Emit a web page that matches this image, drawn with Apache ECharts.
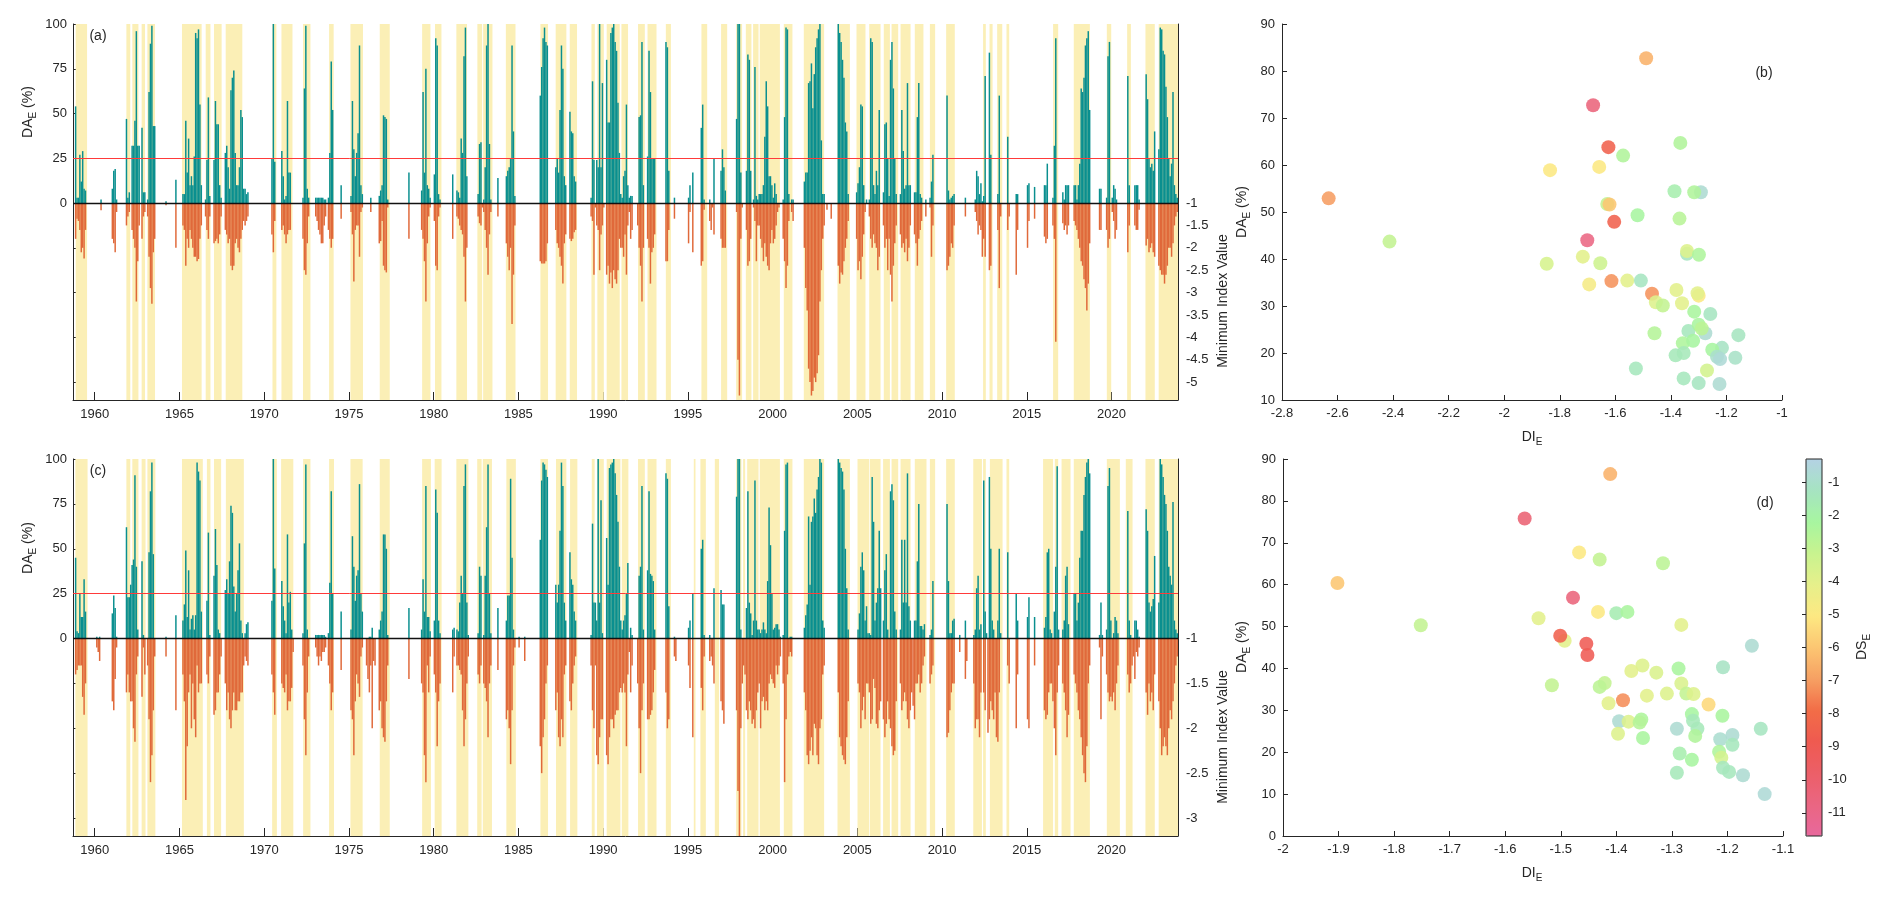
<!DOCTYPE html>
<html>
<head>
<meta charset="utf-8">
<title>DA_E time series and DI_E scatter</title>
<script src="https://cdn.jsdelivr.net/npm/echarts@6/dist/echarts.min.js"></script>
<style>
  html, body { margin: 0; padding: 0; background: #fff; }
  #chart { width: 1892px; height: 902px; }
</style>
</head>
<body>
<div id="chart"></div>
<script>
// ---- data ----
const yearTicks = [1960, 1965, 1970, 1975, 1980, 1985, 1990, 1995, 2000, 2005, 2010, 2015, 2020];

// drought episodes: [first month, DA_E (%) per month, minimum index value per month]
const episodesA = [
  ['1958-11', [54,3,3,27,12,29,8,7], [-1.8,-1.35,-1.4,-1.6,-2.1,-2.0,-2.24,-1.6]],
  ['1960-05', [2], [-1.16]],
  ['1961-01', [8,18,19,2], [-1.8,-1.9,-2.1,-1.2]],
  ['1961-11', [47,3,6], [-1.5,-1.3,-1.2]],
  ['1962-03', [32,32,46,96,32,32], [-1.6,-1.8,-2.0,-3.2,-2.3,-1.5]],
  ['1962-10', [42,6,6], [-1.8,-1.3,-1.2]],
  ['1963-02', [2,62,89,99,43,43], [-1.3,-2.2,-2.9,-3.25,-2.1,-1.8]],
  ['1964-03', [1], [-1.05]],
  ['1964-10', [13], [-2.0]],
  ['1965-03', [5,5,46,17,36,10,15,10,26,95,92,97,55,10], [-1.5,-1.6,-2.4,-1.8,-2.0,-1.6,-1.8,-2.0,-2.2,-2.2,-2.3,-2.25,-1.8,-1.5]],
  ['1966-07', [2,24,59,4], [-1.3,-1.6,-1.8,-1.3]],
  ['1967-01', [24,57,44,44,10,3], [-1.9,-1.85,-1.8,-1.9,-1.7,-1.3]],
  ['1967-09', [28,32,20,8,63,70,74,28,10,10,20,52,48,8], [-1.6,-1.7,-1.9,-1.8,-2.4,-2.5,-2.4,-1.9,-1.8,-2.0,-2.1,-1.8,-1.6,-1.4]],
  ['1968-11', [8,5,6], [-1.5,-1.4,-1.3]],
  ['1970-06', [25,100,23], [-1.7,-2.1,-1.4]],
  ['1971-01', [29,15,2,4,57,17,17], [-1.6,-1.5,-1.7,-1.9,-1.7,-1.6,-1.6]],
  ['1972-04', [3,64,99,8,3], [-1.8,-2.5,-2.6,-1.9,-1.3]],
  ['1973-01', [3,3,3,3,3,3,2,2], [-1.3,-1.4,-1.6,-1.7,-1.9,-1.9,-1.5,-1.3]],
  ['1973-10', [3,28,79,52], [-1.6,-1.8,-2.0,-1.8]],
  ['1974-07', [10], [-1.35]],
  ['1975-02', [4,57,30,15,28,39,88,10,5], [-1.2,-1.7,-2.75,-1.6,-1.5,-1.5,-2.2,-1.2,-1.1]],
  ['1976-04', [3], [-1.2]],
  ['1976-10', [4,7,10,49,48,47,2], [-1.9,-1.85,-1.4,-2.4,-2.5,-2.55,-1.1]],
  ['1978-07', [17], [-1.8]],
  ['1979-04', [7,62,17,75,10,8,3], [-1.6,-1.8,-2.3,-3.2,-1.9,-1.3,-1.1]],
  ['1980-01', [16,92,88,5,2], [-1.4,-2.4,-2.5,-1.3,-1.1]],
  ['1981-02', [16], [-1.8]],
  ['1981-05', [7,6,3,36,28,82,98,15], [-1.3,-1.35,-1.5,-1.6,-1.7,-2.2,-3.2,-2.0]],
  ['1982-08', [5,33,34,0,2,20,88,100,33,2], [-1.3,-1.45,-1.5,-1.1,-1.2,-1.6,-2.0,-2.6,-1.7,-1.2]],
  ['1983-10', [14], [-1.3]],
  ['1984-04', [15,18,20,25,88,40,4], [-1.9,-2.2,-2.5,-2.0,-3.7,-2.6,-1.5]],
  ['1986-04', [60,76,92,98,90,88], [-2.3,-2.35,-2.35,-2.35,-2.3,-1.9]],
  ['1987-03', [20,25,17,52,88,75,15,10], [-1.6,-1.9,-2.0,-2.2,-2.4,-2.8,-1.9,-1.7]],
  ['1988-01', [51,40,39,15,12], [-1.8,-1.85,-1.8,-1.65,-1.6]],
  ['1989-04', [3,68,24,0,24,20,100,20,67,0], [-1.3,-1.4,-2.6,-1.1,-1.5,-1.6,-2.5,-1.7,-1.5,-1.1]],
  ['1990-03', [80,45,45,95,98,100,90,85,56,28,5,3,15,18,55,10], [-2.6,-2.4,-2.8,-2.55,-2.9,-2.5,-2.7,-2.8,-2.5,-1.8,-2.0,-2.0,-2.2,-1.7,-2.6,-1.5]],
  ['1991-07', [3,4,4], [-1.2,-1.8,-1.6]],
  ['1992-01', [0,48,49,90,10], [-1.5,-2.0,-2.4,-3.2,-2.0]],
  ['1992-08', [26,85,62,25,25,25], [-1.8,-2.0,-2.8,-2.1,-2.0,-1.7]],
  ['1993-09', [90,87,18], [-2.3,-2.3,-1.6]],
  ['1994-03', [3], [-1.35]],
  ['1995-01', [3,10,0,17], [-1.9,-1.2,null,-2.1]],
  ['1995-10', [42,55,2], [-2.4,-2.3,-1.15]],
  ['1996-04', [2,0,0,25], [-1.4,-1.6,-1.1,-1.7]],
  ['1996-12', [18,30,20,7], [-1.8,-2.0,-2.0,-2.0]],
  ['1997-11', [47,100,100,17,0], [-1.2,-4.5,-5.3,-1.8,-1.1]],
  ['1998-06', [18,83,80,18,0,2,76,4,2], [-1.6,-2.4,-2.3,-1.8,null,-1.1,-1.4,-2.3,-1.5]],
  ['1999-03', [5,5,5,10,37,68,54,15,15,10,3,11,5,0,0], [-1.5,-1.8,-2.0,-2.3,-1.9,-2.2,-2.4,-2.5,-1.9,-1.6,-1.9,-1.8,-1.5,-1.2,-1.1]],
  ['2000-08', [2,48,98,97,5,0,2,2], [-1.8,-2.3,-2.9,-2.4,-1.4,null,-1.2,-1.4]],
  ['2001-11', [12,17,17,67,68,78,53,72,87,92,97,100,35,5,5], [-2.0,-2.9,-3.4,-4.7,-5.0,-5.3,-5.2,-4.9,-5.0,-4.8,-4.4,-3.2,-2.5,-1.8,-1.5]],
  ['2003-03', [0], [-1.15]],
  ['2003-06', [0], [-1.35]],
  ['2003-11', [100,95,90,80,70,45,40,5], [-2.4,-2.8,-2.55,-2.6,-2.3,-2.0,-1.8,-1.4]],
  ['2004-12', [6,11,20,55,54,10,0,2], [-1.8,-2.5,-2.3,-2.7,-2.2,-1.7,-1.2,null]],
  ['2005-09', [2,92,90,10,5,18,10,52], [-1.3,-1.8,-2.0,-1.7,-1.9,-2.0,-2.5,-2.2]],
  ['2006-07', [6,44,45,25,4,80,90,64,25,5], [-1.5,-2.0,-1.8,-2.5,-1.8,-2.6,-3.2,-2.4,-1.9,-1.5]],
  ['2007-07', [5,52,29,8,10,67,10,10], [-1.7,-2.0,-1.9,-2.1,-1.8,-2.3,-2.0,-1.5]],
  ['2008-05', [6,6,48,67,5,3,0,0,2], [-1.7,-1.9,-2.4,-1.8,-1.6,-1.4,null,null,-1.3]],
  ['2009-04', [3,12,27], [-1.1,-2.2,-1.5]],
  ['2010-04', [60,7,2,3,4,5], [-2.5,-2.4,-2.2,-1.9,-2.0,-1.5]],
  ['2011-05', [3], [-1.3]],
  ['2011-12', [2,18,15,5,11,1,4,71], [-1.2,-1.4,-1.7,-1.5,-1.6,-2.2,-1.8,-2.2]],
  ['2012-10', [84,27], [-2.5,-2.4]],
  ['2013-04', [5,60,0], [-1.6,-2.9,-1.3]],
  ['2013-11', [37,0], [-1.6,-1.3]],
  ['2014-05', [5,5], [-2.6,-1.6]],
  ['2015-01', [10,11], [-2.0,-1.4]],
  ['2015-06', [9], [-1.35]],
  ['2016-01', [10,10,22], [-1.75,-1.9,-1.8]],
  ['2016-07', [3,32,92], [-1.5,-1.8,-4.1]],
  ['2017-02', [6,2,10,10,10], [-1.45,-1.6,-1.5,-1.7,-1.5]],
  ['2017-10', [10,10,2,10,22,64,62,70,88,92,96,52], [-1.4,-1.5,-1.6,-1.8,-2.0,-2.3,-2.4,-2.7,-2.9,-3.4,-2.8,-1.9]],
  ['2019-04', [8,8], [-1.6,-1.6]],
  ['2019-09', [3,82,90,0,3,10,8,2], [-1.6,-2.0,-1.8,null,-1.2,-1.4,-1.8,-1.6]],
  ['2020-12', [71,10], [-2.1,-1.5]],
  ['2021-05', [10,10,10,2], [-1.5,-1.6,-1.6,-1.15]],
  ['2022-01', [72,58,25,20,22,18,40], [-1.95,-1.8,-2.1,-2.0,-1.9,-2.1,-2.2]],
  ['2022-10', [30,98,97,85,83,65,48,25,15,22,62,10,5,3], [-2.4,-2.5,-2.6,-2.6,-2.8,-2.6,-2.4,-2.0,-2.0,-2.2,-1.9,-1.5,-1.3,-1.2]]
];

const droughtSpansA = [
  [1958.88,1959.55],[1961.87,1962.10],[1962.22,1962.58],[1962.77,1962.97],[1963.11,1963.56],
  [1965.15,1966.31],[1966.55,1966.83],[1967.04,1967.49],[1967.73,1968.71],[1970.49,1970.72],
  [1971.02,1971.67],[1972.29,1972.73],[1973.83,1974.10],[1975.09,1975.83],[1976.82,1977.41],
  [1979.32,1979.81],[1980.08,1980.46],[1981.34,1981.97],[1982.58,1982.86],[1982.92,1983.47],
  [1984.26,1984.83],[1986.30,1986.75],[1987.20,1987.83],[1988.03,1988.46],[1989.31,1989.51],
  [1989.66,1990.04],[1990.21,1990.98],[1991.08,1991.47],[1992.06,1992.46],[1992.62,1993.15],
  [1993.70,1994.0],[1995.80,1996.14],[1996.96,1997.32],[1997.85,1998.20],[1998.42,1998.75],
  [1998.85,1999.17],[1999.24,2000.43],[2000.66,2001.17],[2001.84,2003.04],[2003.83,2004.56],
  [2004.95,2005.48],[2005.70,2006.37],[2006.56,2006.92],[2007.02,2007.41],[2007.55,2008.14],
  [2008.39,2008.90],[2009.28,2009.59],[2010.24,2010.75],[2012.42,2012.58],[2012.80,2012.98],
  [2013.25,2013.55],[2013.80,2013.96],[2016.55,2016.85],[2017.77,2018.72],[2019.72,2019.98],
  [2020.92,2021.14],[2022.0,2022.55],[2022.78,2023.92]
];

const episodesC = [
  ['1958-11', [45,4,3,25,12,12,33,15], [-1.4,-1.35,-1.3,-1.3,-1.3,-1.65,-1.85,-1.5]],
  ['1960-02', [1,0,1], [-1.1,-1.15,-1.25]],
  ['1961-01', [14,24,17,1], [-1.7,-1.8,-1.45,-1.1]],
  ['1961-11', [62,23,23,30,41,44,91,40,5], [-1.6,-1.4,-1.6,-1.7,-1.7,-2.0,-2.15,-1.4,-1.2]],
  ['1962-10', [43,2,0], [-1.65,-1.1,-1.4]],
  ['1963-02', [0,48,82,98,47,0], [-1.3,-1.9,-2.6,-2.3,-1.8,-1.2]],
  ['1964-03', [1], [-1.2]],
  ['1964-10', [13], [-1.8]],
  ['1965-03', [10,19,49,12,38,5,11,13,5,13,98,93,88,15], [-1.4,-1.7,-2.8,-2.2,-1.6,-1.4,-2.0,-1.5,-1.9,-2.1,-1.3,-1.6,-1.5,-1.5]],
  ['1966-08', [21,59,2], [-1.4,-1.5,-1.2]],
  ['1967-01', [35,61,41,5,3,0], [-1.85,-1.8,-1.6,-1.6,-1.4,-1.2]],
  ['1967-09', [27,33,25,43,74,70,29,15,25,38,53,10,3,0], [-1.5,-1.8,-1.6,-1.9,-2.0,-1.8,-1.6,-1.8,-1.8,-1.7,-1.7,-1.6,-1.6,-1.3]],
  ['1968-11', [3,8,9], [-1.2,-1.25,-1.3]],
  ['1970-06', [21,100,39], [-1.4,-1.6,-1.85]],
  ['1971-01', [32,18,10,3,58,20,26,5,0], [-1.5,-1.55,-1.6,-1.4,-1.8,-1.7,-1.7,-1.55,-1.15]],
  ['1972-04', [3,53,97,5,0], [-1.3,-1.9,-2.3,-1.6,-1.2]],
  ['1973-01', [2,2,2,2,2,2,2,1], [-1.1,-1.2,-1.3,-1.2,-1.25,-1.15,-1.15,-1.1]],
  ['1973-10', [3,31,82,25], [-1.3,-1.5,-1.8,-1.6]],
  ['1974-07', [15], [-1.35]],
  ['1975-02', [5,57,40,21,35,38,86,25,15], [-1.8,-1.9,-2.3,-1.7,-1.4,-1.5,-1.65,-1.2,-1.1]],
  ['1976-01', [0,0,1,1,6,0,0], [-1.3,-1.45,-1.6,-1.3,-2.0,-1.25,-1.3]],
  ['1976-10', [5,10,15,58,58,50,2], [-1.8,-1.7,-2.0,-2.1,-2.15,-1.7,-1.3]],
  ['1978-07', [17], [-1.45]],
  ['1979-04', [5,33,15,85,12,12,4], [-1.5,-1.6,-2.3,-2.6,-1.3,-1.6,-1.2]],
  ['1980-01', [10,83,70,10,3], [-1.4,-1.6,-2.2,-1.7,-1.5]],
  ['1981-02', [5,6], [-1.6,-1.2]],
  ['1981-05', [5,4,20,35,25,85,97,20,2], [-1.3,-1.3,-1.35,-1.4,-1.8,-2.2,-1.9,-1.5,-1.2]],
  ['1982-08', [3,40,35,0,2,35,62,97,25,3], [-1.4,-1.5,-1.3,null,-1.5,-1.55,-1.7,-2.1,-1.5,-1.3]],
  ['1983-10', [17], [-1.35]],
  ['1984-04', [10,24,24,89,45,5,0], [-1.9,-1.8,-2.0,-2.4,-1.8,-1.3,-1.1]],
  ['1985-01', [1,0,0,0,1], [-1.1,null,null,null,-1.25]],
  ['1986-04', [55,88,98,97,94,90], [-2.2,-2.5,-2.1,-1.9,-1.5,-1.3]],
  ['1987-03', [30,20,30,60,98,85,20,10], [-1.8,-1.6,-2.1,-2.2,-1.9,-2.1,-1.4,-1.3]],
  ['1988-01', [48,33,30,15,10], [-1.7,-1.8,-1.5,-1.3,-1.2]],
  ['1989-04', [2,64,20,20,10,100,20,77,3], [-1.3,-1.8,-2.0,-1.3,-2.3,-2.4,-2.1,-1.9,-1.9]],
  ['1990-03', [56,30,95,97,98,100,92,80,65,40,10,5,10,13,25,42], [-2.3,-2.4,-2.1,-1.9,-1.9,-2.0,-1.85,-1.8,-1.8,-1.6,-1.55,-1.6,-1.5,-1.6,-2.2,-1.4]],
  ['1991-07', [0,6,2], [-1.15,-1.6,-1.3]],
  ['1992-01', [0,35,40,85,5], [-1.5,-2.0,-2.5,-1.8,-1.5]],
  ['1992-08', [38,82,36,35,32,5], [-1.9,-1.9,-1.85,-1.8,-1.6,-1.35]],
  ['1993-09', [92,89,18], [-1.6,-2.0,-1.9]],
  ['1994-03', [1,0], [-1.2,-1.25]],
  ['1995-01', [6,10,0,25], [-1.3,-1.55,null,-2.1]],
  ['1995-10', [50,55,2], [-1.55,-1.8,-1.2]],
  ['1996-04', [2,0,0,28], [-1.25,-1.2,-1.3,-1.5]],
  ['1996-12', [27,19,19], [-1.7,-1.8,-1.95]],
  ['1997-11', [79,100,100,5,0,0,0,17,82,20,14,2,10,88,10,5,5,3,5,9,5,3,32,73,52,25,5,6,8,8,5,1],
              [-1.8,-2.7,-3.2,-2.0,-1.5,-1.3,-1.4,-1.8,-1.9,-1.7,-1.8,-1.95,-1.9,-2.0,-1.8,-1.6,-1.5,-2.0,-1.7,-1.65,-1.8,-1.7,-1.8,-1.5,-1.4,-1.45,-1.5,-1.55,-1.3,-1.4,-1.3,-1.2]],
  ['2000-08', [2,60,97,98,0,1,1], [-1.5,-2.6,-1.9,-1.4,-1.2,-1.15,-1.2]],
  ['2001-11', [6,13,19,68,30,65,68,78,70,83,90,100,98,10,6], [-1.6,-1.8,-2.3,-2.4,-2.25,-2.1,-2.3,-1.95,-2.0,-2.3,-2.4,-2.0,-1.9,-1.4,-1.3]],
  ['2003-11', [100,98,95,93,83,50,28,5], [-1.6,-2.1,-2.2,-2.3,-2.35,-2.4,-2.1,-1.7]],
  ['2005-01', [5,14,40,48,38,10,18,3,3,2,90,65,10,20,28,60,28], [-1.5,-1.6,-2.0,-1.8,-1.65,-1.9,-1.5,-1.5,-1.6,-1.95,-1.9,-1.45,-1.55,-1.95,-2.0,-1.8,-1.7]],
  ['2006-07', [10,38,47,5,0,82,86,77,15,5], [-1.9,-2.1,-1.95,-1.7,-1.9,-2.0,-2.2,-2.3,-2.25,-1.7]],
  ['2007-07', [5,55,20,55,20,92,18,10,0,0,10,10,43,75,7,7,5,8], [-1.5,-1.8,-1.7,-1.6,-1.7,-1.9,-2.0,-1.8,-1.6,-1.75,-1.9,-1.5,-1.5,-1.4,-1.6,-1.5,-1.3,-1.2]],
  ['2009-04', [2,5,32], [-1.5,-1.4,-1.3]],
  ['2010-04', [75,32,3,3,10,11], [-2.1,-2.05,-1.8,-1.6,-1.5,-1.5]],
  ['2011-01', [2], [-1.15]],
  ['2011-05', [10,0], [-1.45,-1.25]],
  ['2011-11', [2,5,28,35,5,8,0,88,15,3,0,90,50,10,5,0,0,10,50,3,0,0,0,0,48,0],
              [-1.5,-2.0,-1.9,-1.9,-2.1,-1.6,null,-1.6,-1.8,null,-2.05,-1.9,-1.7,-1.8,-1.9,-1.6,-2.1,-2.15,-1.6,null,null,null,null,null,-1.3,-1.5]],
  ['2014-05', [25,10], [-2.0,-1.4]],
  ['2015-01', [12,23], [-1.9,-2.0]],
  ['2015-06', [12], [-1.3]],
  ['2016-01', [6,12,48,50,5,3,0,15,40,96,5], [-1.8,-1.9,-1.85,-1.6,-1.5,-1.5,-1.7,-2.0,-2.3,-1.6,-1.3]],
  ['2017-02', [5,10,35,40,8], [-1.5,-1.6,-1.8,-2.1,-1.85]],
  ['2017-10', [25,25,10,20,45,60,60,80,90,98,100,92], [-1.4,-1.5,-1.6,-1.8,-1.9,-2.1,-2.3,-2.5,-2.6,-2.2,-1.5,-1.3]],
  ['2019-04', [2,20,2], [-1.1,-1.9,-1.2]],
  ['2019-09', [5,85,95,10,0,3,12,10,3], [-1.4,-1.6,-1.7,-1.65,-1.7,-1.6,-1.8,-1.5,-1.3]],
  ['2020-12', [71,10,2,0,0], [-1.4,-1.6,-1.5,-1.3,-1.2]],
  ['2021-05', [10,10,5,1], [-1.45,-1.15,-1.2,-1.1]],
  ['2022-01', [72,60,20,15,18,22,46], [-1.6,-1.85,-1.5,-1.7,-1.6,-1.8,-1.4]],
  ['2022-10', [20,100,97,90,80,75,60,40,35,30,76,10,5,3], [-1.7,-2.0,-2.3,-2.2,-2.1,-2.2,-2.3,-2.0,-1.8,-1.9,-1.7,-1.5,-1.3,-1.2]]
];

const droughtSpansC = [
  [1958.86,1959.58],[1961.87,1962.10],[1962.22,1962.58],[1962.77,1963.0],[1963.11,1963.58],
  [1965.15,1966.38],[1966.62,1966.83],[1967.04,1967.46],[1967.74,1968.8],[1970.47,1970.75],
  [1971.0,1971.72],[1972.30,1972.73],[1973.83,1974.12],[1975.09,1975.81],[1976.82,1977.41],
  [1979.32,1979.84],[1980.06,1980.47],[1981.34,1982.05],[1982.57,1982.83],[1982.9,1983.44],
  [1984.29,1984.85],[1986.30,1986.75],[1987.22,1987.83],[1988.05,1988.48],[1989.33,1989.5],
  [1989.64,1990.04],[1990.21,1991.02],[1991.1,1991.49],[1992.06,1992.46],[1992.62,1993.15],
  [1993.70,1994.0],[1995.35,1995.45],[1995.74,1996.06],[1996.59,1996.84],[1997.85,1998.16],
  [1998.26,1998.38],[1998.5,1999.17],[1999.24,2000.43],[2000.66,2001.17],[2001.84,2003.04],
  [2003.83,2004.56],[2005.01,2005.7],[2005.74,2006.37],[2006.52,2006.92],[2007.02,2007.41],
  [2007.55,2008.14],[2008.39,2009.08],[2009.28,2009.59],[2010.24,2010.75],[2011.84,2012.35],
  [2012.42,2012.58],[2012.82,2013.57],[2013.80,2013.96],[2015.96,2016.55],[2016.65,2016.85],
  [2017.05,2017.58],[2017.77,2018.72],[2019.72,2020.49],[2020.84,2021.24],[2022.0,2022.55],
  [2022.78,2023.92]
];

// scatter points: [DI_E, DA_E (%), DS_E]
const scatterB = [
  [-2.632,52.9,-7],[-2.413,43.7,-3],[-1.489,82.7,-6.5],[-1.680,72.7,-10.5],[-1.625,63.8,-8.5],
  [-1.572,62.0,-2.5],[-1.366,64.7,-2.5],[-1.835,58.9,-5],[-1.658,59.6,-5],[-1.387,54.4,-1.8],
  [-1.292,54.2,-0.8],[-1.316,54.2,-2.5],[-1.629,51.7,-3],[-1.621,51.6,-6],[-1.520,49.3,-2.2],
  [-1.369,48.6,-2.7],[-1.604,47.9,-8.5],[-1.701,44.0,-10.8],[-1.342,41.1,-1.3],[-1.342,41.7,-3.8],
  [-1.299,40.9,-2.4],[-1.717,40.5,-4],[-1.847,39.0,-3.6],[-1.654,39.1,-3.3],[-1.614,35.3,-7.2],
  [-1.557,35.4,-4],[-1.508,35.4,-1.3],[-1.694,34.6,-4.7],[-1.468,32.6,-7.2],[-1.380,33.4,-4],
  [-1.300,32.2,-5],[-1.304,32.7,-4],[-1.454,30.8,-3.8],[-1.429,30.1,-3],[-1.360,30.6,-4],
  [-1.316,28.8,-2.3],[-1.258,28.3,-1.3],[-1.337,24.7,-1.4],[-1.276,24.2,-0.8],[-1.300,26.0,-2.3],
  [-1.289,25.2,-2.8],[-1.459,24.2,-2.6],[-1.157,23.8,-1.3],[-1.357,22.1,-2.4],[-1.320,22.6,-2.2],
  [-1.216,21.1,-1.2],[-1.251,20.7,-2.2],[-1.234,19.2,-1.0],[-1.223,18.7,-0.7],[-1.168,19.0,-1.1],
  [-1.383,19.5,-1.5],[-1.354,20.0,-1.5],[-1.526,16.7,-1.4],[-1.270,16.3,-3.5],[-1.354,14.6,-1.4],
  [-1.300,13.6,-1.3],[-1.225,13.4,-0.8]
];

const scatterD = [
  [-1.902,60.4,-6],[-1.752,50.3,-3],[-1.411,86.4,-6.5],[-1.565,75.8,-10.2],[-1.467,67.7,-5],
  [-1.430,66.0,-3],[-1.316,65.1,-2.8],[-1.478,56.9,-10.5],[-1.540,52.0,-4],[-1.433,53.5,-5],
  [-1.400,53.2,-1.7],[-1.380,53.5,-2.3],[-1.283,50.4,-4],[-1.493,46.6,-4],[-1.501,47.8,-8.5],
  [-1.454,45.9,-9],[-1.452,43.2,-9],[-1.156,45.4,-0.8],[-1.353,40.7,-3.8],[-1.373,39.4,-4],
  [-1.328,39.0,-3.7],[-1.288,40.0,-2.3],[-1.208,40.3,-1.2],[-1.516,36.0,-3],[-1.421,36.5,-3],
  [-1.430,35.6,-2.8],[-1.283,36.4,-3.7],[-1.309,34.0,-3.8],[-1.274,34.0,-3],[-1.261,33.9,-3.8],
  [-1.345,33.5,-4],[-1.388,32.4,-7.3],[-1.414,31.7,-4],[-1.234,31.4,-5.5],[-1.395,27.4,-0.8],
  [-1.378,27.3,-3.8],[-1.355,27.8,-2.4],[-1.358,27.1,-2.6],[-1.264,29.1,-2.2],[-1.262,27.5,-1.5],
  [-1.254,25.6,-1.5],[-1.209,28.7,-2.3],[-1.291,25.6,-0.8],[-1.140,25.6,-1.3],[-1.397,24.4,-3.8],
  [-1.352,23.4,-2.3],[-1.258,23.9,-2.5],[-1.213,23.1,-0.9],[-1.191,24.1,-0.8],[-1.191,21.8,-1.4],
  [-1.286,19.7,-1.8],[-1.215,20.1,-2.4],[-1.211,18.7,-3.5],[-1.264,18.2,-2.2],[-1.291,15.1,-1.5],
  [-1.208,16.3,-1.4],[-1.197,15.3,-1.4],[-1.172,14.5,-0.8],[-1.133,10.0,-0.7]
];

// DS_E colour scale, from -11.7 (bottom) to -0.3 (top)
const dsColors = ['#e8689c','#ea6682','#ec5f68','#ef5a50','#f26d47','#f6a063','#fcc672',
                  '#fde882','#e6f08b','#c8f38f','#a7f5a0','#a6e4c2','#b4d2e4'];

const daTicks = [-100, -75, -50, -25, 0, 25, 50, 75, 100];
const daLabels = [0, 25, 50, 75, 100];
const idxTicksA = [-5, -4.5, -4, -3.5, -3, -2.5, -2, -1.5, -1, 0, 1, 2, 3];
const idxLabelsA = [-5, -4.5, -4, -3.5, -3, -2.5, -2, -1.5, -1];
const idxTicksC = [-3, -2.5, -2, -1.5, -1, -0.5, 0, 0.5, 1];
const idxLabelsC = [-3, -2.5, -2, -1.5, -1];
const dsTicks = [-11, -10, -9, -8, -7, -6, -5, -4, -3, -2, -1];

// ---- helpers ----
const FONT = '"Liberation Sans", Arial, Helvetica, sans-serif';
const INK = '#262626';
const TEAL = '#0a8f8f';
const ORANGE = '#e0693a';
const SHADE = '#fbefb6';
const X_MIN = 1958.72, X_MAX = 2023.92;
const HALF = 1.05 / 24;

function monthly(episodes) {
  const da = [], idx = [];
  episodes.forEach(([start, daVals, idxVals]) => {
    const [y, m] = start.split('-').map(Number);
    const n = Math.max(daVals.length, idxVals.length);
    for (let i = 0; i < n; i++) {
      const t = y + (m - 1 + i + 0.5) / 12;
      if (daVals[i] > 0) da.push([t, daVals[i]]);
      if (idxVals[i] != null && idxVals[i] < -1) idx.push([t, idxVals[i]]);
    }
  });
  return { da, idx };
}

function barRenderer(base, color) {
  return function (params, api) {
    const t = api.value(0), v = api.value(1);
    const p0 = api.coord([t - HALF, base]);
    const p1 = api.coord([t + HALF, v]);
    return {
      type: 'rect',
      shape: { x: p0[0], y: Math.min(p0[1], p1[1]), width: Math.max(p1[0] - p0[0], 1.2), height: Math.abs(p1[1] - p0[1]) },
      style: { fill: color }
    };
  };
}

function shadeRenderer(params, api) {
  const a = api.coord([api.value(0), 0]);
  const b = api.coord([api.value(1), 0]);
  const cs = params.coordSys;
  return { type: 'rect', shape: { x: a[0], y: cs.y, width: b[0] - a[0], height: cs.height }, style: { fill: SHADE } };
}

const tickStyle = { color: INK, width: 1 };
const labelStyle = { color: INK, fontSize: 13, fontFamily: FONT };
const plainNumber = (v) => String(Math.round(v * 1000) / 1000);

function timeXAxis(gridIndex) {
  return {
    type: 'value', gridIndex, min: X_MIN, max: X_MAX,
    axisLine: { show: true, onZero: false, lineStyle: { color: INK } },
    axisTick: { show: true, inside: true, length: 8, customValues: yearTicks, lineStyle: tickStyle },
    axisLabel: Object.assign({ customValues: yearTicks, margin: 8, formatter: plainNumber }, labelStyle),
    splitLine: { show: false }
  };
}
function daYAxis(gridIndex) {
  return {
    type: 'value', gridIndex, min: -110, max: 100, position: 'left',
    axisLine: { show: true, onZero: false, lineStyle: { color: INK } },
    axisTick: { show: true, inside: true, length: 5, customValues: daTicks, lineStyle: tickStyle },
    axisLabel: Object.assign({ customValues: daLabels, margin: 6, formatter: plainNumber }, labelStyle),
    splitLine: { show: false }
  };
}
function idxYAxis(gridIndex, min, max, ticks, labels) {
  return {
    type: 'value', gridIndex, min, max, position: 'right',
    axisLine: { show: true, onZero: false, lineStyle: { color: INK } },
    axisTick: { show: true, inside: true, length: 5, customValues: ticks, lineStyle: tickStyle },
    axisLabel: Object.assign({ customValues: labels, margin: 8, formatter: plainNumber }, labelStyle),
    splitLine: { show: false }
  };
}
function plainAxis(gridIndex, min, max, interval) {
  return {
    type: 'value', gridIndex, min, max, interval,
    axisLine: { show: true, onZero: false, lineStyle: { color: INK } },
    axisTick: { show: true, inside: true, length: 5, lineStyle: tickStyle },
    axisLabel: Object.assign({ margin: 7, formatter: plainNumber }, labelStyle),
    splitLine: { show: false }
  };
}

function timePanelSeries(xi, yLeft, yRight, spans, data) {
  return [
    { type: 'custom', xAxisIndex: xi, yAxisIndex: yLeft, data: spans, renderItem: shadeRenderer, z: 1, silent: true },
    { type: 'custom', xAxisIndex: xi, yAxisIndex: yLeft, data: data.da, renderItem: barRenderer(0, TEAL), z: 2, silent: true },
    { type: 'custom', xAxisIndex: xi, yAxisIndex: yRight, data: data.idx, renderItem: barRenderer(-1, ORANGE), z: 2, silent: true },
    {
      type: 'line', xAxisIndex: xi, yAxisIndex: yLeft, data: [], z: 3, silent: true,
      markLine: {
        silent: true, symbol: ['none', 'none'], label: { show: false }, animation: false,
        data: [
          { yAxis: 25, lineStyle: { color: '#ff3a3a', width: 1, type: 'solid' } },
          { yAxis: 0, lineStyle: { color: '#111', width: 1.4, type: 'solid' } }
        ]
      }
    }
  ];
}

function richStyles(size) {
  return {
    n: { fontSize: size, fontFamily: FONT, fill: INK, lineHeight: 16 },
    s: { fontSize: size - 4, fontFamily: FONT, fill: INK, lineHeight: 10, padding: [11, 0, 0, 0] }
  };
}
function label(x, y, text, rotated, size) {
  const sz = size || 14;
  return {
    type: 'text', x, y, rotation: rotated ? Math.PI / 2 : 0, silent: true,
    style: { text, rich: richStyles(sz), font: sz + 'px ' + FONT, fill: INK, align: 'center', verticalAlign: 'middle' }
  };
}

const a = monthly(episodesA);
const c = monthly(episodesC);

const chart = echarts.init(document.getElementById('chart'), null, { renderer: 'canvas' });
chart.setOption({
  animation: false,
  backgroundColor: '#fff',
  grid: [
    { left: 73, top: 24, width: 1105, height: 376 },
    { left: 73, top: 459, width: 1105, height: 377 },
    { left: 1282, top: 24, width: 500, height: 376 },
    { left: 1283, top: 459, width: 500, height: 377 },
    { left: 1806, top: 459, width: 16, height: 377, show: true, borderColor: INK, borderWidth: 1, backgroundColor: 'transparent', z: 10 }
  ],
  xAxis: [
    timeXAxis(0),
    timeXAxis(1),
    plainAxis(2, -2.8, -1, 0.2),
    plainAxis(3, -2, -1.1, 0.1),
    { type: 'value', gridIndex: 4, show: false, min: 0, max: 1 }
  ],
  yAxis: [
    daYAxis(0),
    idxYAxis(0, -5.4, 3, idxTicksA, idxLabelsA),
    daYAxis(1),
    idxYAxis(1, -3.2, 1, idxTicksC, idxLabelsC),
    plainAxis(2, 10, 90, 10),
    plainAxis(3, 0, 90, 10),
    {
      type: 'value', gridIndex: 4, min: -11.7, max: -0.3, position: 'right', z: 12,
      axisLine: { show: false },
      axisTick: { show: true, inside: true, length: 4, customValues: dsTicks, lineStyle: tickStyle },
      axisLabel: Object.assign({ customValues: dsTicks, margin: 6, formatter: plainNumber }, labelStyle),
      splitLine: { show: false }
    }
  ],
  visualMap: {
    type: 'continuous', min: -11.7, max: -0.3, dimension: 2, seriesIndex: [8, 9],
    inRange: { color: dsColors }, calculable: false, text: ['', ''],
    left: 1806, top: 459, itemWidth: 16, itemHeight: 377, padding: 0, z: 1, hoverLink: false
  },
  series: [
    ...timePanelSeries(0, 0, 1, droughtSpansA, a),
    ...timePanelSeries(1, 2, 3, droughtSpansC, c),
    { type: 'scatter', xAxisIndex: 2, yAxisIndex: 4, data: scatterB, symbolSize: 14, itemStyle: { opacity: 0.88 }, silent: true },
    { type: 'scatter', xAxisIndex: 3, yAxisIndex: 5, data: scatterD, symbolSize: 14, itemStyle: { opacity: 0.88 }, silent: true }
  ],
  graphic: [
    label(98, 36, '(a)'),
    label(98, 471, '(c)'),
    label(1764, 73, '(b)'),
    label(1765, 503, '(d)'),
    label(28, 112, '{n|DA}{s|E}{n| (%)}', true),
    label(28, 548, '{n|DA}{s|E}{n| (%)}', true),
    label(1242, 212, '{n|DA}{s|E}{n| (%)}', true),
    label(1242, 647, '{n|DA}{s|E}{n| (%)}', true),
    label(1223, 301, 'Minimum Index Value', true),
    label(1223, 737, 'Minimum Index Value', true),
    label(1532, 437, '{n|DI}{s|E}'),
    label(1532, 873, '{n|DI}{s|E}'),
    label(1862, 647, '{n|DS}{s|E}', true)
  ]
});
</script>
</body>
</html>
